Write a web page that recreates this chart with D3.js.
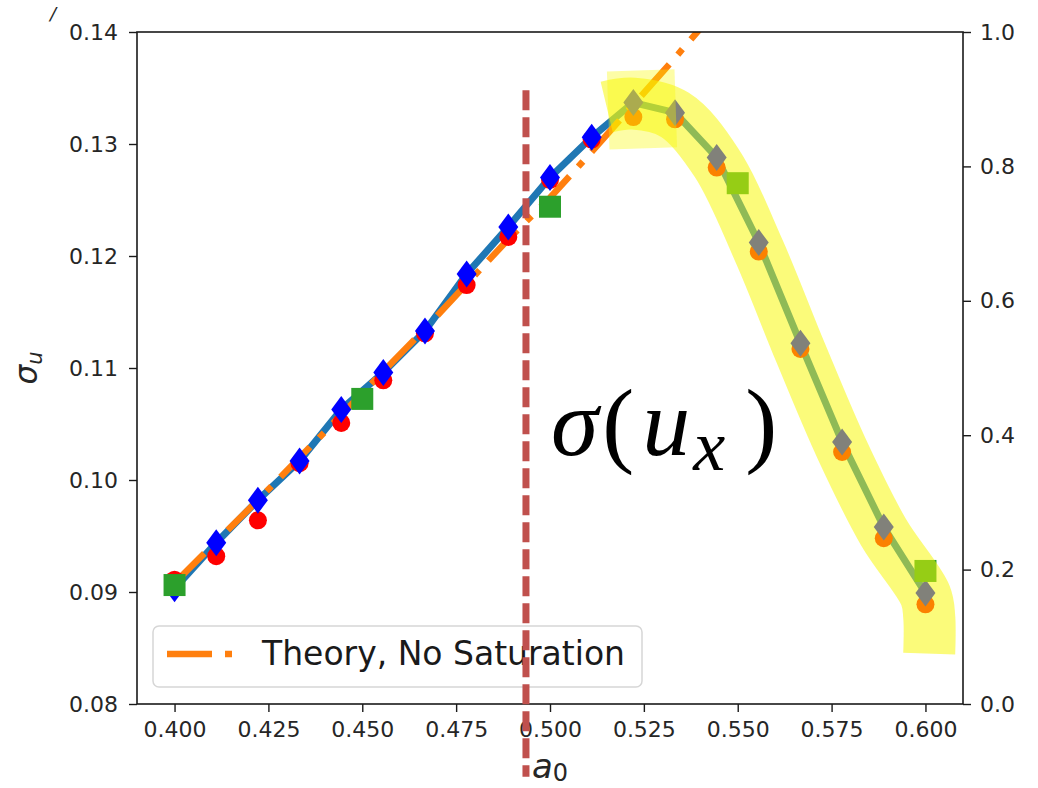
<!DOCTYPE html>
<html><head><meta charset="utf-8">
<script src="https://cdn.jsdelivr.net/npm/d3@7"></script>
<style>body{margin:0;background:#fff}svg{display:block}</style>
</head><body>
<script>
// ---------------- data ----------------
const a0Values = [0.4000,0.4111,0.4222,0.4333,0.4444,0.4556,0.4667,0.4778,0.4889,0.5000,
                  0.5111,0.5222,0.5333,0.5444,0.5556,0.5667,0.5778,0.5889,0.6000];
const sigmaSim = [0.0903,0.0944,0.0982,0.1017,0.1063,0.1096,0.1133,0.1184,0.1226,0.1270,
                  0.1306,0.1337,0.1328,0.1288,0.1212,0.1122,0.1034,0.0958,0.0899];
const sigmaAlt = [0.0911,0.0932,0.0964,0.1015,0.1051,0.1089,0.1131,0.1174,0.1217,0.1268,
                  0.1304,0.1324,0.1322,0.1279,0.1204,0.1117,0.1025,0.0948,0.0889];
const theorySigma = [0.0908,0.0945,0.0982,0.1020,0.1058,0.1097,0.1135,0.1175,0.1215,0.1252,
                     0.1293,0.1335,0.1377,0.1420,0.1463,0.1507,0.1551,0.1596,0.1641];
const squareA0 = [0.40,0.45,0.50,0.55,0.60];
const squareRight = [0.177,0.454,0.740,0.775,0.198];
const xTicks = [0.400,0.425,0.450,0.475,0.500,0.525,0.550,0.575,0.600];
const leftTicks = [0.08,0.09,0.10,0.11,0.12,0.13,0.14];
const rightTicks = [0.0,0.2,0.4,0.6,0.8,1.0];
const legendLabels = ["Theory, No Saturation"];
const thresholdA0 = [0.4936];
const thresholdSpan = [0.0735, 0.1348];
const highlightA0 = [0.5151,0.5222,0.5333,0.5444,0.5556,0.5667,0.5778,0.5889,0.6000,0.6010,0.6010];
const highlightSigma = [0.1333,0.1336,0.1326,0.1283,0.1205,0.1114,0.1027,0.0953,0.0897,0.0878,0.0845];
const blobA0 = [0.5155, 0.5335];
const blobSigma = [0.1330, 0.1332];
const titleFragment = "/";

// ---------------- layout ----------------
const W = 1038, H = 788;
const L = 137, R = 963, T = 32, B = 704;
const x = d3.scaleLinear().domain([0.39, 0.61]).range([L, R]);
const y = d3.scaleLinear().domain([0.08, 0.14]).range([B, T]);
const y2 = d3.scaleLinear().domain([0, 1]).range([B, T]);
const FONT = "DejaVu Sans, sans-serif";
const TXT = "#262626";
const HL = "rgb(248,248,0)";

const svg = d3.select("body").append("svg").attr("width", W).attr("height", H);
svg.append("rect").attr("width", W).attr("height", H).attr("fill", "#fff");
svg.append("defs").append("clipPath").attr("id", "plotclip")
  .append("rect").attr("x", L).attr("y", T).attr("width", R - L).attr("height", B - T);

const plot = svg.append("g").attr("clip-path", "url(#plotclip)");

// blue simulation line
const line = d3.line().x((d, i) => x(a0Values[i])).y(d => y(d));
plot.append("path").datum(sigmaSim).attr("d", line)
  .attr("fill", "none").attr("stroke", "#1f77b4").attr("stroke-width", 7)
  .attr("stroke-linejoin", "round").attr("stroke-linecap", "round");

// theory dash-dot line
plot.append("path").datum(theorySigma).attr("d", line)
  .attr("fill", "none").attr("stroke", "#ff7f0e").attr("stroke-width", 6.5)
  .attr("stroke-dasharray", "42,13,7,13");

// red circles
plot.selectAll("circle.alt").data(sigmaAlt).join("circle").attr("class", "alt")
  .attr("cx", (d, i) => x(a0Values[i])).attr("cy", d => y(d)).attr("r", 9)
  .attr("fill", "#ff0000");

// blue thin diamonds
const diamond = (w, h) => `M0,${-h}L${w},0L0,${h}L${-w},0Z`;
plot.selectAll("path.dia").data(sigmaSim).join("path").attr("class", "dia")
  .attr("transform", (d, i) => `translate(${x(a0Values[i])},${y(d)})`)
  .attr("d", diamond(10, 13.5)).attr("fill", "#0000ff");

// green squares (right axis)
plot.selectAll("rect.sq").data(squareRight).join("rect").attr("class", "sq")
  .attr("x", (d, i) => x(squareA0[i]) - 11).attr("y", d => y2(d) - 11)
  .attr("width", 22).attr("height", 22).attr("fill", "#2ca02c");

// yellow highlighter overlay
const hl = d3.line().x((d, i) => x(highlightA0[i])).y(d => y(d)).curve(d3.curveCatmullRom);
svg.append("path").datum(highlightSigma).attr("d", hl)
  .attr("fill", "none").attr("stroke", HL).attr("stroke-opacity", 0.52)
  .attr("stroke-width", 52).attr("stroke-linejoin", "round").attr("stroke-linecap", "butt");
const hb = d3.line().x((d, i) => x(blobA0[i])).y(d => y(d));
svg.append("path").datum(blobSigma).attr("d", hb)
  .attr("fill", "none").attr("stroke", HL).attr("stroke-opacity", 0.35)
  .attr("stroke-width", 78).attr("stroke-linecap", "butt").attr("stroke-linejoin", "round");

// spines
svg.append("rect").attr("x", L).attr("y", T).attr("width", R - L).attr("height", B - T)
  .attr("fill", "none").attr("stroke", "#1a1a1a").attr("stroke-width", 1.6);

// axes
function styleAxis(g) {
  g.select(".domain").remove();
  g.selectAll(".tick line").attr("stroke", "#1a1a1a").attr("stroke-width", 1.4);
  g.selectAll(".tick text").attr("fill", TXT).attr("font-size", 22).attr("font-family", FONT);
}
svg.append("g").attr("transform", `translate(0,${B})`)
  .call(d3.axisBottom(x).tickValues(xTicks).tickFormat(d3.format(".3f")).tickSize(8).tickPadding(9))
  .call(styleAxis);
svg.append("g").attr("transform", `translate(${L},0)`)
  .call(d3.axisLeft(y).tickValues(leftTicks).tickFormat(d3.format(".2f")).tickSize(8).tickPadding(11))
  .call(styleAxis);
svg.append("g").attr("transform", `translate(${R},0)`)
  .call(d3.axisRight(y2).tickValues(rightTicks).tickFormat(d3.format(".1f")).tickSize(8).tickPadding(9))
  .call(styleAxis);

// axis labels
const xl = svg.append("text").attr("x", (L + R) / 2).attr("y", 778).attr("text-anchor", "middle")
  .attr("font-family", FONT).attr("fill", TXT).attr("font-size", 34);
xl.append("tspan").attr("font-style", "italic").text("a");
xl.append("tspan").attr("font-size", 24).attr("dy", 3).text("0");

const yl = svg.append("text").attr("transform", `translate(37,${(T + B) / 2}) rotate(-90)`)
  .attr("text-anchor", "middle").attr("font-family", FONT).attr("fill", TXT).attr("font-size", 31);
yl.append("tspan").attr("font-style", "italic").text("σ");
yl.append("tspan").attr("font-style", "italic").attr("font-size", 21).attr("dy", 5).text("u");

// legend
const lg = svg.append("g");
lg.append("rect").attr("x", 153).attr("y", 626).attr("width", 489).attr("height", 61).attr("rx", 6)
  .attr("fill", "#fff").attr("fill-opacity", 0.85).attr("stroke", "#d6d6d6").attr("stroke-width", 1.5);
legendLabels.forEach((lab, i) => {
  lg.append("line").attr("x1", 167).attr("x2", 233).attr("y1", 654 + i * 40).attr("y2", 654 + i * 40)
    .attr("stroke", "#ff7f0e").attr("stroke-width", 6.5).attr("stroke-dasharray", "45,13,7,13");
  lg.append("text").attr("x", 262).attr("y", 665 + i * 40).attr("font-family", FONT)
    .attr("font-size", 33).attr("fill", "#1a1a1a").text(lab);
});

// red dashed threshold line
svg.selectAll("line.thr").data(thresholdA0).join("line").attr("class", "thr")
  .attr("x1", d => x(d)).attr("x2", d => x(d))
  .attr("y1", y(thresholdSpan[1])).attr("y2", y(thresholdSpan[0]))
  .attr("stroke", "#c0504d").attr("stroke-width", 7).attr("stroke-dasharray", "20,7");

// sigma(u_x) annotation
const ann = svg.append("text").attr("x", 551).attr("y", 455)
  .attr("font-family", "Liberation Serif, serif").attr("font-size", 96).attr("fill", "#000");
ann.append("tspan").attr("font-style", "italic").text("σ");
ann.append("tspan").attr("dx", 4).text("(");
ann.append("tspan").attr("font-style", "italic").attr("dx", 8).text("u");
ann.append("tspan").attr("font-style", "italic").attr("font-size", 72).attr("dx", 3).attr("dy", 15).text("x");
ann.append("tspan").attr("dy", -15).attr("dx", 20).text(")");

// cropped title fragment
svg.append("text").attr("x", 50).attr("y", 20).attr("font-family", FONT).attr("font-size", 18)
  .attr("font-style", "italic").attr("fill", TXT).text(titleFragment);
</script>
</body></html>
